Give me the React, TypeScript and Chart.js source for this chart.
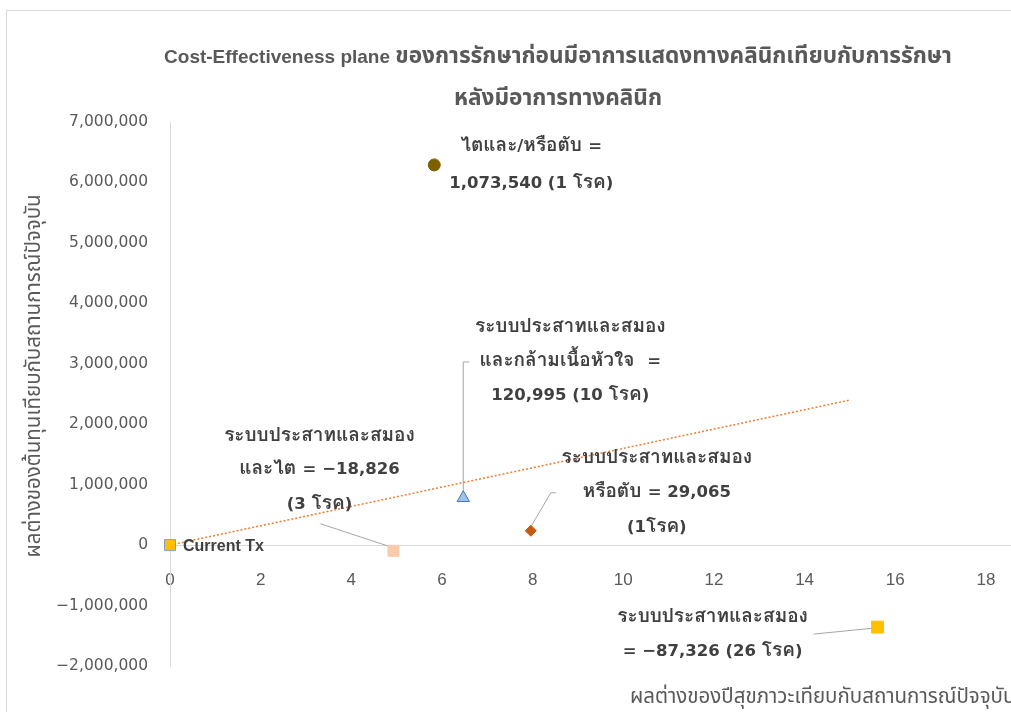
import React, { useEffect, useRef } from "react";
import { Chart, registerables } from "chart.js";

Chart.register(...registerables);

// ---------- data ----------
const pointNames = [
  "Current Tx",
  "ไตและ/หรือตับ",
  "ระบบประสาทและสมองและกล้ามเนื้อหัวใจ",
  "ระบบประสาทและสมองหรือตับ",
  "ระบบประสาทและสมองและไต",
  "ระบบประสาทและสมอง",
];
const effectX = [0, 5.83, 6.47, 7.96, 4.93, 15.61];
const costY = [0, 6290000, 780000, 237000, -94000, -1357000];

const trendX = [0, 15];
const trendY = [0, 2400000];

const xMin = 0;
const xMax = 20;
const xStep = 2;
const yMin = -2000000;
const yMax = 7000000;
const yStep = 1000000;

const titleLines = [
  "Cost-Effectiveness plane ของการรักษาก่อนมีอาการแสดงทางคลินิกเทียบกับการรักษา",
  "หลังมีอาการทางคลินิก",
];
const yAxisTitle = "ผลต่างของต้นทุนเทียบกับสถานการณ์ปัจจุบัน";
const xAxisTitle = "ผลต่างของปีสุขภาวะเทียบกับสถานการณ์ปัจจุบัน";

const labelLines: string[][] = [
  ["Current Tx"],
  ["ไตและ/หรือตับ =", "1,073,540 (1 โรค)"],
  ["ระบบประสาทและสมอง", "และกล้ามเนื้อหัวใจ  =", "120,995 (10 โรค)"],
  ["ระบบประสาทและสมอง", "หรือตับ = 29,065", "(1โรค)"],
  ["ระบบประสาทและสมอง", "และไต = −18,826", "(3 โรค)"],
  ["ระบบประสาทและสมอง", "= −87,326 (26 โรค)"],
];

// ---------- styles ----------
const pointStyles = ["rect", "circle", "triangle", "rectRot", "rect", "rect"];
const pointRadius = [7.8, 6, 7.2, 5.5, 7.8, 8.4];
const pointFill = ["#FFC000", "#7F6000", "#9DC3E6", "#C55A11", "#F8CBAD", "#FFC000"];
const pointBorder = ["#7F9FCF", "#7F6000", "#4472C4", "#C55A11", "#F8CBAD", "#FFC000"];

// label placement relative to each point (pixels)
const labelOffsets: { dx: number; dys: number[]; align: "left" | "center" }[] = [
  { dx: 13, dys: [1], align: "left" },
  { dx: 97, dys: [-18, 19], align: "center" },
  { dx: 107, dys: [-170, -136, -102], align: "center" },
  { dx: 126, dys: [-72, -38, -3], align: "center" },
  { dx: -74, dys: [-114, -81, -46], align: "center" },
  { dx: -165, dys: [-9, 25], align: "center" },
];
const leaderOffsets: number[][][] = [
  [],
  [],
  [[0, -6], [0, -136], [6, -136]],
  [[0, -4], [20, -38], [25, -38]],
  [[-3, -4], [-73, -27]],
  [[-4, 1], [-64, 7]],
];

const THAI = "'Loma', 'Garuda', 'Tahoma', 'Leelawadee UI', 'Noto Sans Thai', 'DejaVu Sans', sans-serif";
const THAI_C = "'Noto Sans Thai', 'Loma', 'Garuda', sans-serif";

type Run = { text: string; thai: boolean };
function splitRuns(text: string): Run[] {
  const runs: Run[] = [];
  let cur = "";
  let curThai: boolean | null = null;
  for (const ch of Array.from(text)) {
    const isThai = /[\u0E00-\u0E7F]/.test(ch);
    const t = ch === " " ? (curThai ?? false) : isThai;
    if (curThai === null) curThai = t;
    if (t !== curThai) {
      runs.push({ text: cur, thai: curThai });
      cur = "";
      curThai = t;
    }
    cur += ch;
  }
  if (cur) runs.push({ text: cur, thai: !!curThai });
  return runs;
}

function drawMixed(
  ctx: CanvasRenderingContext2D,
  text: string,
  x: number,
  y: number,
  align: "left" | "center",
  thaiFont: string,
  latinFont: string
) {
  const runs = splitRuns(text);
  const widths = runs.map((r) => {
    ctx.font = r.thai ? thaiFont : latinFont;
    return ctx.measureText(r.text).width;
  });
  const total = widths.reduce((a, b) => a + b, 0);
  let cx = align === "center" ? x - total / 2 : x;
  ctx.textAlign = "left";
  runs.forEach((r, i) => {
    ctx.font = r.thai ? thaiFont : latinFont;
    ctx.fillText(r.text, cx, y);
    cx += widths[i];
  });
}

const annotationPlugin = {
  id: "annots",
  beforeDatasetsDraw(chart: any) {
    const ctx = chart.ctx as CanvasRenderingContext2D;
    const xs = chart.scales.x;
    const ys = chart.scales.y;
    ctx.save();
    ctx.strokeStyle = "#A6A6A6";
    ctx.lineWidth = 1;
    for (let i = 0; i < effectX.length; i++) {
      const segs = leaderOffsets[i];
      if (!segs.length) continue;
      const px = xs.getPixelForValue(effectX[i]);
      const py = ys.getPixelForValue(costY[i]);
      ctx.beginPath();
      segs.forEach((s, k) => {
        if (k === 0) ctx.moveTo(px + s[0], py + s[1]);
        else ctx.lineTo(px + s[0], py + s[1]);
      });
      ctx.stroke();
    }
    ctx.restore();
  },
  afterDraw(chart: any) {
    const ctx = chart.ctx as CanvasRenderingContext2D;
    const xs = chart.scales.x;
    const ys = chart.scales.y;
    const area = chart.chartArea;
    ctx.save();
    ctx.textBaseline = "middle";

    // title
    ctx.fillStyle = "#595959";
    const cx = chart.width / 2;
    const tThai = `bold 22.6px ${THAI_C}`;
    const tLatin = "bold 19px 'Liberation Sans', sans-serif";
    drawMixed(ctx, titleLines[0], cx - 1, 47, "center", tThai, tLatin);
    drawMixed(ctx, titleLines[1], cx - 1, 89, "center", tThai, tLatin);

    // axis titles
    ctx.fillStyle = "#595959";
    ctx.font = `20.5px ${THAI_C}`;
    ctx.textAlign = "center";
    ctx.save();
    ctx.translate(29, 365);
    ctx.rotate(-Math.PI / 2);
    ctx.fillText(yAxisTitle, 0, 0);
    ctx.restore();
    ctx.textAlign = "left";
    ctx.fillText(xAxisTitle, 623, area.bottom + 33);

    // point labels
    ctx.fillStyle = "#404040";
    for (let i = 0; i < effectX.length; i++) {
      const px = xs.getPixelForValue(effectX[i]);
      const py = ys.getPixelForValue(costY[i]);
      const o = labelOffsets[i];
      labelLines[i].forEach((line, k) => {
        if (i === 0) {
          ctx.font = "bold 16px 'Liberation Sans', sans-serif";
          ctx.textAlign = "left";
          ctx.fillText(line, px + o.dx, py + o.dys[k]);
        } else {
          drawMixed(
            ctx,
            line,
            px + o.dx,
            py + o.dys[k],
            o.align,
            `bold 19px ${THAI}`,
            "bold 16.5px 'DejaVu Sans', sans-serif"
          );
        }
      });
    }
    ctx.restore();
  },
};

export default function App() {
  const canvasRef = useRef<HTMLCanvasElement | null>(null);

  useEffect(() => {
    document.documentElement.style.overflow = "hidden";
    document.body.style.overflow = "hidden";
    const canvas = canvasRef.current;
    if (!canvas) return;

    const pointSets = effectX.map((x, i) => ({
      label: pointNames[i],
      type: "scatter" as const,
      data: [{ x, y: costY[i] }],
      pointStyle: pointStyles[i] as any,
      pointRadius: pointRadius[i],
      pointHoverRadius: pointRadius[i],
      backgroundColor: pointFill[i],
      borderColor: pointBorder[i],
      pointBorderWidth: 1,
      showLine: false,
      clip: false,
      order: 1,
    }));

    const trendSet = {
      label: "Linear trend",
      type: "line" as const,
      data: trendX.map((x, i) => ({ x, y: trendY[i] })),
      borderColor: "#ED7D31",
      borderWidth: 1.5,
      borderDash: [2, 2],
      pointRadius: 0,
      fill: false,
      showLine: true,
      clip: false,
      order: 2,
    };

    const chart = new Chart(canvas, {
      type: "scatter",
      data: { datasets: [trendSet as any, ...pointSets] },
      options: {
        responsive: false,
        animation: false,
        devicePixelRatio: 1,
        layout: { padding: { left: 0, right: 22, top: 111, bottom: 65 } },
        plugins: {
          legend: { display: false },
          title: { display: false },
          tooltip: { enabled: false },
        },
        scales: {
          x: {
            type: "linear",
            position: { y: 0 } as any,
            min: xMin,
            max: xMax,
            ticks: {
              stepSize: xStep,
              padding: 25,
              color: "#595959",
              font: { family: "'Liberation Sans Narrow', 'Liberation Sans', sans-serif", size: 17 },
              callback: (v: any) => String(v),
            },
            grid: { display: false, drawTicks: false },
            border: { display: true, color: "#D9D9D9", width: 1 },
          },
          y: {
            type: "linear",
            position: "left",
            min: yMin,
            max: yMax,
            afterFit: (scale: any) => {
              scale.width = 163;
            },
            ticks: {
              stepSize: yStep,
              padding: 22,
              color: "#595959",
              font: { family: "'DejaVu Sans', sans-serif", size: 15.5 },
              callback: (v: any) =>
                v < 0
                  ? "−" + Math.abs(v).toLocaleString("en-US")
                  : Number(v).toLocaleString("en-US"),
            },
            grid: { display: false, drawTicks: false },
            border: { display: true, color: "#D9D9D9", width: 1 },
          },
        },
      },
      plugins: [annotationPlugin],
    });

    return () => chart.destroy();
  }, []);

  return (
    <div
      style={{
        position: "absolute",
        left: 6,
        top: 10,
        width: 1120,
        height: 740,
        borderTop: "1px solid #D9D9D9",
        borderLeft: "1px solid #D9D9D9",
        background: "#FFFFFF",
      }}
    >
      <canvas
        ref={canvasRef}
        width={1104}
        height={720}
        style={{ display: "block", width: 1104, height: 720 }}
      />
    </div>
  );
}
